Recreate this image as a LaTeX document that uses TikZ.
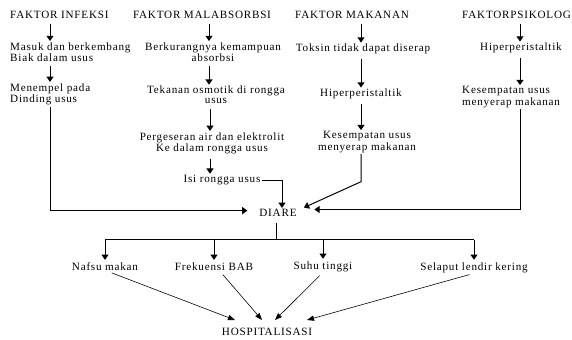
\documentclass[tikz,border=0pt]{standalone}
\usepackage{fontspec}
\setmainfont[LetterSpace=7]{Liberation Serif}
\usetikzlibrary{arrows.meta,positioning}

\begin{document}
\begin{tikzpicture}[x=0.03cm,y=-0.03cm,>={Triangle[length=4.5pt,width=6pt]},
    every node/.style={font=\fontsize{9.5}{8.5}\selectfont,inner sep=0pt},
    arr/.style={->,line width=0.85pt,shorten <=4pt,shorten >=1pt},
    lin/.style={line width=0.8pt},
    diag/.style={->,line width=0.5pt,>={Triangle[length=6pt,width=4.5pt]},shorten <=4pt}]

  \useasboundingbox (0,0) rectangle (572,339);

  % faktor infeksi
  \node[anchor=west] (inf) at (10,15) {FAKTOR INFEKSI};
  \node[anchor=west,align=left] (inf1) at (10,52) {Masuk dan berkembang\\Biak dalam usus};
  \node[anchor=west,align=left] (inf2) at (10,94) {Menempel pada\\Dinding usus};

  % faktor malabsorbsi
  \node (mal) at (202,15) {FAKTOR MALABSORBSI};
  \node[align=center] (mal1) at (213,52) {Berkurangnya kemampuan\\absorbsi};
  \node[align=center] (mal2) at (216,95) {Tekanan osmotik di rongga\\usus};
  \node[align=center] (mal3) at (212,143) {Pergeseran air dan elektrolit\\Ke dalam rongga usus};
  \node (mal4) at (222,180) {Isi rongga usus};

  % faktor makanan
  \node (mak) at (352,15) {FAKTOR MAKANAN};
  \node (mak1) at (363,49) {Toksin tidak dapat diserap};
  \node (mak2) at (361,94) {Hiperperistaltik};
  \node[align=center] (mak3) at (367,142) {Kesempatan usus\\menyerap makanan};

  % faktor psikologi
  \node[anchor=west] (psi) at (462,15) {FAKTORPSIKOLOGI};
  \node (psi1) at (521,48) {Hiperperistaltik};
  \node[anchor=west,align=left] (psi2) at (462,97) {Kesempatan usus\\menyerap makanan};

  % akibat
  \node (diare) at (278,213) {DIARE};
  \node (nafsu) at (105,267) {Nafsu makan};
  \node (bab) at (214,267) {Frekuensi BAB};
  \node (suhu) at (323,267) {Suhu tinggi};
  \node (lendir) at (474,268) {Selaput lendir kering};
  \node (hosp) at (267,332) {HOSPITALISASI};

  % panah kolom
  \draw[arr] (inf.south -| 50,0) -- (inf1.north -| 50,0);
  \draw[arr] (inf1.south -| 50,0) -- (inf2.north -| 50,0);
  \draw[arr,shorten <=2pt,shorten >=10pt] (inf2.south -| 50,0) |- ([yshift=2]diare.west);

  \draw[arr] (mal.south -| 209,0) -- (mal1.north -| 209,0);
  \draw[arr] (mal1.south -| 209,0) -- (mal2.north -| 209,0);
  \draw[arr] (mal2.south -| 210,0) -- (mal3.north -| 210,0);
  \draw[arr] (mal3.south -| 210,0) -- (mal4.north -| 210,0);
  \draw[arr,shorten <=1pt] (mal4.east) -| (diare.north -| 282,0);

  \draw[arr] (mak.south -| 361,0) -- (mak1.north -| 361,0);
  \draw[arr] (mak1.south -| 361,0) -- (mak2.north -| 361,0);
  \draw[arr] (mak2.south -| 361,0) -- (mak3.north -| 361,0);
  \draw[arr,shorten <=1pt] (mak3.south -| 361,0) -- ++(0,29)
    -- ([shift={(6,-1)}]diare.north east);

  \draw[arr] (psi.south -| 520,0) -- (psi1.north -| 520,0);
  \draw[arr] (psi1.south -| 520,0) -- (psi2.north -| 520,0);
  \draw[arr,shorten <=1pt,shorten >=15pt] (psi2.south -| 520,0) |- ([yshift=3]diare.east);

  % percabangan
  \draw[lin] ([shift={(-2,6)}]diare.south) -- ++(0,17) coordinate (bar);
  \draw[lin] (bar -| nafsu) -- (bar -| lendir);
  \foreach \n in {nafsu,bab,suhu,lendir}
    \draw[arr,shorten <=0pt,shorten >=2.5pt] (bar -| \n) -- (\n.north);

  % ke hospitalisasi
  \draw[diag] ([xshift=2]nafsu.south) -- ([shift={(-32,-8)}]hosp.north);
  \draw[diag] ([xshift=5]bab.south) -- ([shift={(-5,-8)}]hosp.north);
  \draw[diag] (suhu.south) -- ([shift={(8,-8)}]hosp.north);
  \draw[diag] (lendir.south) -- ([shift={(40,-8)}]hosp.north);

\end{tikzpicture}
\end{document}
